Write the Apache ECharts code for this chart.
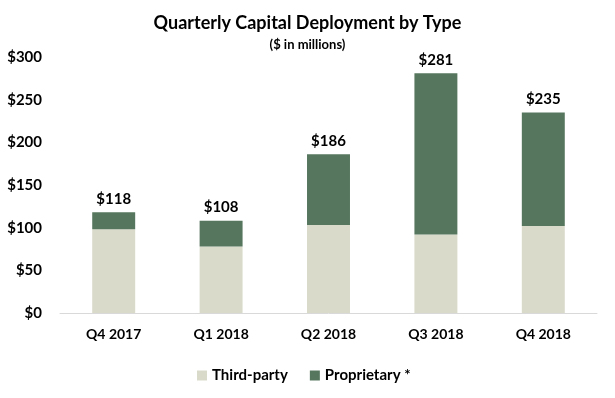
<!DOCTYPE html>
<html>
<head>
  <meta charset="utf-8" />
  <title>Quarterly Capital Deployment by Type</title>
  <style>
    html, body { margin: 0; padding: 0; background: #fff; }
  </style>
  <script src="https://cdn.jsdelivr.net/npm/echarts@6/dist/echarts.min.js"></script>
</head>
<body>
  <div id="main" style="width:615px;height:398px;"></div>
  <script type="text/javascript">
    // data ($ in millions)
    var quarters = ['Q4 2017', 'Q1 2018', 'Q2 2018', 'Q3 2018', 'Q4 2018'];
    var thirdParty = [98, 78, 103, 92, 102];
    var proprietary = [20, 30, 83, 189, 133];
    var totals = [118, 108, 186, 281, 235];

    var font = 'Lato, "Open Sans", sans-serif';
    var myChart = echarts.init(document.getElementById('main'));

    var option = {
      animation: false,
      textStyle: { fontFamily: font },
      title: {
        text: 'Quarterly Capital Deployment by Type',
        subtext: '($ in millions)',
        left: 'center',
        top: 9,
        itemGap: 6,
        textStyle: { fontFamily: font, fontSize: 18, fontWeight: 'bold', color: '#000' },
        subtextStyle: { fontFamily: font, fontSize: 13, fontWeight: 'bold', color: '#000' }
      },
      legend: {
        bottom: 10,
        left: 192,
        itemWidth: 10,
        itemHeight: 10,
        itemGap: 22,
        icon: 'rect',
        textStyle: { fontFamily: font, fontSize: 15, fontWeight: 'bold', color: '#000' },
        data: ['Third-party', 'Proprietary *']
      },
      grid: { left: 60, right: 18, top: 57, bottom: 85 },
      xAxis: {
        type: 'category',
        data: quarters,
        axisLine: { lineStyle: { color: '#d9d9d9', width: 1 } },
        axisTick: { show: false },
        axisLabel: { margin: 14, fontFamily: font, fontSize: 14, fontWeight: 'bold', color: '#000' }
      },
      yAxis: {
        type: 'value',
        min: 0,
        max: 300,
        interval: 50,
        splitLine: { show: false },
        axisLine: { show: false },
        axisTick: { show: false },
        axisLabel: {
          margin: 18,
          fontFamily: font, fontSize: 15, fontWeight: 'bold', color: '#000',
          formatter: function (v) { return '$' + v; }
        }
      },
      series: [{
        name: 'Third-party',
        type: 'bar',
        stack: 'total',
        barWidth: '40%',
        itemStyle: { color: '#d9dac9' },
        data: thirdParty
      }, {
        name: 'Proprietary *',
        type: 'bar',
        stack: 'total',
        barWidth: '40%',
        itemStyle: { color: '#56765e' },
        label: {
          show: true,
          position: 'top',
          distance: 6,
          fontFamily: font, fontSize: 15, fontWeight: 'bold', color: '#000',
          formatter: function (p) { return '$' + totals[p.dataIndex]; }
        },
        data: proprietary
      }]
    };
    myChart.setOption(option);
  </script>
</body>
</html>
